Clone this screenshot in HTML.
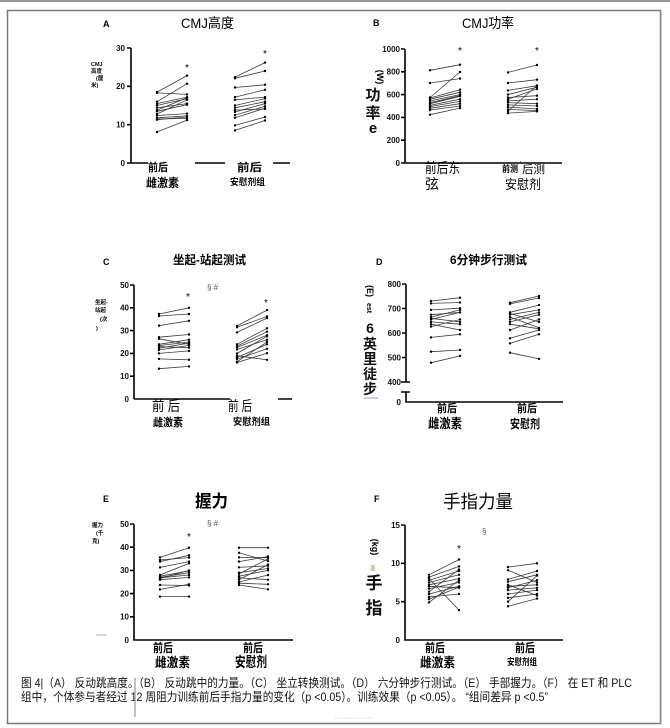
<!DOCTYPE html>
<html><head><meta charset="utf-8"><style>
html,body{margin:0;padding:0;background:#fff;}
svg{display:block;font-family:"Liberation Sans","Noto Sans CJK SC",sans-serif;}
.s{stroke:#3a3a3a;stroke-width:.8;marker-start:url(#m);marker-end:url(#m);fill:none}
.ax{stroke:#000;stroke-width:1.6;fill:none}
.tk{font-size:8px;font-weight:bold;text-anchor:end;fill:#111}
.cj{font-weight:bold;fill:#111;text-anchor:middle}
</style></head><body>
<svg width="670" height="728" viewBox="0 0 670 728" xmlns="http://www.w3.org/2000/svg">
<defs><marker id="m" viewBox="-2 -2 4 4" markerWidth="3" markerHeight="3" markerUnits="userSpaceOnUse" refX="0" refY="0"><circle r="1.6" fill="#000"/></marker></defs>
<rect x="0" y="0" width="670" height="728" fill="#fff"/>
<line x1="0" y1="1" x2="670" y2="1" stroke="#9a9a9a" stroke-width="2"/>
<rect x="7.5" y="10.5" width="653" height="713" fill="none" stroke="#7a7a7a" stroke-width="1.5"/>
<line x1="661" y1="11" x2="661" y2="724" stroke="#999" stroke-width="1"/>

<!-- Panel A -->
<text x="103" y="27" font-size="9" font-weight="bold">A</text>
<text x="181" y="28" font-size="14" textLength="53" lengthAdjust="spacingAndGlyphs">CMJ高度</text>
<path class="ax" d="M131 48V163M131 163H148M195 163H225M273 163H290M127 48H131M127 86.3H131M127 124.7H131M127 163H131"/>
<text class="tk" x="125" y="51">30</text><text class="tk" x="125" y="89">20</text><text class="tk" x="125" y="127.5">10</text><text class="tk" x="125" y="166">0</text>
<text font-size="5.5" font-weight="bold" x="91" y="66">CMJ</text>
<text font-size="5.5" font-weight="bold" x="91" y="73">高度</text>
<text font-size="5.5" font-weight="bold" x="96" y="80">(厘</text>
<text font-size="5.5" font-weight="bold" x="91" y="87">米)</text>
<g class="s">
<line x1="157" y1="92.1" x2="187" y2="75.6"/><line x1="157" y1="92.9" x2="187" y2="94.4"/>
<line x1="157" y1="101.7" x2="187" y2="83.7"/><line x1="157" y1="103.6" x2="187" y2="97.1"/>
<line x1="157" y1="105.5" x2="187" y2="98.6"/><line x1="157" y1="107.8" x2="187" y2="103.6"/>
<line x1="157" y1="110.1" x2="187" y2="97.8"/><line x1="157" y1="111.3" x2="187" y2="104.7"/>
<line x1="157" y1="114" x2="187" y2="99.8"/><line x1="157" y1="115.5" x2="187" y2="113.6"/>
<line x1="157" y1="117.8" x2="187" y2="115.9"/><line x1="157" y1="118.9" x2="187" y2="118.5"/>
<line x1="157" y1="119.7" x2="187" y2="117"/><line x1="157" y1="132" x2="187" y2="120.1"/>
<line x1="235" y1="77.1" x2="265" y2="62.6"/><line x1="235" y1="78.3" x2="265" y2="71"/>
<line x1="235" y1="87.5" x2="265" y2="84.8"/><line x1="235" y1="97.1" x2="265" y2="89.8"/>
<line x1="235" y1="99.8" x2="265" y2="97.1"/><line x1="235" y1="105.5" x2="265" y2="98.6"/>
<line x1="235" y1="107.8" x2="265" y2="101.7"/><line x1="235" y1="112" x2="265" y2="103.6"/>
<line x1="235" y1="115.1" x2="265" y2="106.3"/><line x1="235" y1="117.8" x2="265" y2="108.2"/>
<line x1="235" y1="110.1" x2="265" y2="109"/><line x1="235" y1="125.4" x2="265" y2="117"/>
<line x1="235" y1="130.4" x2="265" y2="120.5"/>
</g>
<text x="187" y="71" font-size="10" text-anchor="middle">*</text>
<text x="265" y="57" font-size="10" text-anchor="middle">*</text>
<text x="148" y="171" font-size="11" font-weight="bold" textLength="20" lengthAdjust="spacingAndGlyphs">前后</text>
<text x="146" y="187" font-size="12" font-weight="bold" textLength="33" lengthAdjust="spacingAndGlyphs">雌激素</text>
<text x="237" y="171" font-size="11" font-weight="bold" textLength="25" lengthAdjust="spacingAndGlyphs">前后</text>
<text x="230" y="185" font-size="9" font-weight="bold" textLength="35" lengthAdjust="spacingAndGlyphs">安慰剂组</text>

<!-- Panel B -->
<text x="373" y="26" font-size="9" font-weight="bold">B</text>
<text x="462" y="28" font-size="14" textLength="52" lengthAdjust="spacingAndGlyphs">CMJ功率</text>
<path class="ax" d="M405 49V163H562M401 49H405M401 71.8H405M401 94.6H405M401 117.4H405M401 140.2H405M401 163H405"/>
<text class="tk" x="400" y="52">1000</text><text class="tk" x="400" y="74.6">800</text><text class="tk" x="400" y="97.4">600</text><text class="tk" x="400" y="120.2">400</text><text class="tk" x="400" y="143">200</text><text class="tk" x="400" y="166">0</text>
<text transform="translate(377,77) rotate(90)" font-size="9" font-weight="bold" text-anchor="middle">(W)</text>
<text x="373" y="100" font-size="15" class="cj">功</text>
<text x="373" y="118" font-size="15" class="cj">率</text>
<text x="373" y="133" font-size="15" class="cj">e</text>
<g class="s">
<line x1="430" y1="70.3" x2="460" y2="64.7"/><line x1="430" y1="83" x2="460" y2="78.6"/>
<line x1="430" y1="97.5" x2="460" y2="72"/><line x1="430" y1="98" x2="460" y2="89.7"/>
<line x1="430" y1="99.2" x2="460" y2="92.3"/><line x1="430" y1="100.9" x2="460" y2="94.6"/>
<line x1="430" y1="102.6" x2="460" y2="95.7"/><line x1="430" y1="103.7" x2="460" y2="96.3"/>
<line x1="430" y1="105.4" x2="460" y2="99.2"/><line x1="430" y1="106.6" x2="460" y2="101.4"/>
<line x1="430" y1="108.3" x2="460" y2="103.7"/><line x1="430" y1="110" x2="460" y2="106"/>
<line x1="430" y1="114.7" x2="460" y2="108.1"/>
<line x1="508" y1="72.4" x2="537" y2="65"/><line x1="508" y1="83" x2="537" y2="79.7"/>
<line x1="508" y1="90.4" x2="537" y2="85.7"/><line x1="508" y1="94.6" x2="537" y2="87.2"/>
<line x1="508" y1="97.5" x2="537" y2="95.7"/><line x1="508" y1="99.2" x2="537" y2="88.9"/>
<line x1="508" y1="100.9" x2="537" y2="99.2"/><line x1="508" y1="102.6" x2="537" y2="103.7"/>
<line x1="508" y1="104.9" x2="537" y2="106"/><line x1="508" y1="107.1" x2="537" y2="108.9"/>
<line x1="508" y1="109.4" x2="537" y2="110.6"/><line x1="508" y1="113.1" x2="537" y2="111.4"/>
<line x1="508" y1="111.1" x2="537" y2="85.5"/>
</g>
<text x="460" y="54" font-size="10" text-anchor="middle">*</text>
<text x="537" y="54" font-size="10" text-anchor="middle">*</text>
<text x="425" y="173" font-size="14" textLength="35" lengthAdjust="spacingAndGlyphs">前后东</text>
<text x="425" y="189" font-size="14">弦</text>
<text x="502" y="172" font-size="9" font-weight="bold" textLength="16" lengthAdjust="spacingAndGlyphs">前测</text>
<text x="519" y="168" font-size="9" font-weight="bold">ˈ</text>
<text x="522" y="173" font-size="11" textLength="23" lengthAdjust="spacingAndGlyphs">后测</text>
<text x="505" y="189" font-size="13" textLength="36" lengthAdjust="spacingAndGlyphs">安慰剂</text>

<!-- Panel C -->
<text x="103" y="265" font-size="9" font-weight="bold">C</text>
<text x="173" y="264" font-size="12" font-weight="bold" textLength="73" lengthAdjust="spacingAndGlyphs">坐起-站起测试</text>
<path class="ax" d="M134 285V399M134 399H230M278 399H292M130 285H134M130 307.8H134M130 330.6H134M130 353.4H134M130 376.2H134"/>
<text class="tk" x="129" y="288">50</text><text class="tk" x="129" y="310.6">40</text><text class="tk" x="129" y="333.4">30</text><text class="tk" x="129" y="356.2">20</text><text class="tk" x="129" y="379">10</text><text class="tk" x="129" y="402">0</text>
<text font-size="5.5" font-weight="bold" x="95" y="304">坐起-</text>
<text font-size="5.5" font-weight="bold" x="95" y="312">站起</text>
<text font-size="5.5" font-weight="bold" x="100" y="321">(次</text>
<text font-size="5.5" font-weight="bold" x="96" y="330">)</text>
<text x="207" y="290" font-size="8" fill="#555">§ #</text>
<g class="s">
<line x1="159" y1="314" x2="189" y2="307.8"/><line x1="159" y1="316" x2="189" y2="314"/>
<line x1="159" y1="325.6" x2="189" y2="320.8"/><line x1="159" y1="337.2" x2="189" y2="334.5"/>
<line x1="159" y1="338.8" x2="189" y2="344.3"/><line x1="159" y1="344.3" x2="189" y2="339.7"/>
<line x1="159" y1="345.6" x2="189" y2="342"/><line x1="159" y1="346.6" x2="189" y2="347.7"/>
<line x1="159" y1="348.2" x2="189" y2="343.1"/><line x1="159" y1="350" x2="189" y2="345.4"/>
<line x1="159" y1="353.4" x2="189" y2="350.9"/><line x1="159" y1="358.9" x2="189" y2="359.8"/>
<line x1="159" y1="368.7" x2="189" y2="366.4"/>
<line x1="237" y1="326" x2="267" y2="310.1"/><line x1="237" y1="327.2" x2="267" y2="316.5"/>
<line x1="237" y1="332.4" x2="267" y2="318.1"/><line x1="237" y1="344.3" x2="267" y2="328.3"/>
<line x1="237" y1="346.1" x2="267" y2="331.7"/><line x1="237" y1="347.5" x2="267" y2="335.2"/>
<line x1="237" y1="349.5" x2="267" y2="339.7"/><line x1="237" y1="353.4" x2="267" y2="336.3"/>
<line x1="237" y1="357.5" x2="267" y2="344.3"/><line x1="237" y1="359.1" x2="267" y2="348.8"/>
<line x1="237" y1="362.5" x2="267" y2="353.2"/><line x1="237" y1="355.7" x2="267" y2="359.8"/>
<line x1="237" y1="361.8" x2="267" y2="342"/>
</g>
<text x="188" y="300" font-size="10" text-anchor="middle">*</text>
<text x="266" y="306" font-size="10" text-anchor="middle">*</text>
<text x="152" y="411" font-size="14" textLength="28" lengthAdjust="spacingAndGlyphs">前 后</text>
<text x="153" y="426" font-size="11" font-weight="bold" textLength="30" lengthAdjust="spacingAndGlyphs">雌激素</text>
<text x="228" y="411" font-size="14" textLength="24" lengthAdjust="spacingAndGlyphs">前 后</text>
<text x="233" y="425" font-size="9.5" font-weight="bold" textLength="37" lengthAdjust="spacingAndGlyphs">安慰剂组</text>

<!-- Panel D -->
<text x="376" y="265" font-size="9" font-weight="bold">D</text>
<text x="450" y="264" font-size="12" font-weight="bold" textLength="77" lengthAdjust="spacingAndGlyphs">6分钟步行测试</text>
<path class="ax" d="M406 284V382M401 382H410M401 392H410M406 392V402H563M402 284H406M402 308.5H406M402 333H406M402 357.5H406"/>
<text class="tk" x="401" y="287">800</text><text class="tk" x="401" y="311.5">700</text><text class="tk" x="401" y="336">600</text><text class="tk" x="401" y="360.5">500</text><text class="tk" x="401" y="385">400</text><text class="tk" x="401" y="405">0</text>
<text transform="translate(367,291) rotate(90)" font-size="9" font-weight="bold" text-anchor="middle">(E)</text>
<text transform="translate(367,308) rotate(90)" font-size="7" font-weight="bold" text-anchor="middle">est</text>
<text x="370" y="333" font-size="14" class="cj">6</text>
<text x="370" y="349" font-size="14" class="cj">英</text>
<text x="370" y="364" font-size="14" class="cj">里</text>
<text x="370" y="379" font-size="14" class="cj">徒</text>
<text x="370" y="394" font-size="14" class="cj">步</text>
<line x1="364" y1="398" x2="378" y2="398" stroke="#8aa0c8" stroke-width="1"/>
<g class="s">
<line x1="431" y1="301.1" x2="460" y2="297.7"/><line x1="431" y1="303.4" x2="460" y2="302.5"/>
<line x1="431" y1="309.9" x2="460" y2="308.2"/><line x1="431" y1="314.7" x2="460" y2="312.4"/>
<line x1="431" y1="317.1" x2="460" y2="309.9"/><line x1="431" y1="318.3" x2="460" y2="321.9"/>
<line x1="431" y1="319.5" x2="460" y2="312.4"/><line x1="431" y1="321.9" x2="460" y2="324.2"/>
<line x1="431" y1="324.2" x2="460" y2="330"/><line x1="431" y1="326.6" x2="460" y2="319.5"/>
<line x1="431" y1="337.4" x2="460" y2="334.3"/><line x1="431" y1="351.7" x2="460" y2="350"/>
<line x1="431" y1="362.7" x2="460" y2="356"/>
<line x1="510" y1="302.7" x2="539" y2="296"/><line x1="510" y1="303.9" x2="539" y2="298"/>
<line x1="510" y1="312.3" x2="539" y2="305.1"/><line x1="510" y1="314.7" x2="539" y2="309.9"/>
<line x1="510" y1="317.1" x2="539" y2="327.8"/><line x1="510" y1="319.5" x2="539" y2="312.4"/>
<line x1="510" y1="321.9" x2="539" y2="314.7"/><line x1="510" y1="324.2" x2="539" y2="328.8"/>
<line x1="510" y1="330" x2="539" y2="319.5"/><line x1="510" y1="338.3" x2="539" y2="330"/>
<line x1="510" y1="343.4" x2="539" y2="334.3"/><line x1="510" y1="352.7" x2="539" y2="358.9"/>
<line x1="510" y1="313.5" x2="539" y2="321.9"/>
</g>
<text x="437" y="412" font-size="11" font-weight="bold" textLength="20" lengthAdjust="spacingAndGlyphs">前后</text>
<text x="428" y="428" font-size="13" font-weight="bold" textLength="34" lengthAdjust="spacingAndGlyphs">雌激素</text>
<text x="517" y="412" font-size="11" font-weight="bold" textLength="20" lengthAdjust="spacingAndGlyphs">前后</text>
<text x="510" y="428" font-size="12" font-weight="bold" textLength="30" lengthAdjust="spacingAndGlyphs">安慰剂</text>

<!-- Panel E -->
<text x="103" y="502" font-size="9" font-weight="bold">E</text>
<text x="195" y="507" font-size="17" font-weight="bold" textLength="33" lengthAdjust="spacingAndGlyphs">握力</text>
<path class="ax" d="M134 524V640H293M130 524H134M130 547.2H134M130 570.4H134M130 593.6H134M130 616.8H134"/>
<text class="tk" x="129" y="527">50</text><text class="tk" x="129" y="550">40</text><text class="tk" x="129" y="573">30</text><text class="tk" x="129" y="596.5">20</text><text class="tk" x="129" y="619.6">10</text><text class="tk" x="129" y="643">0</text>
<text font-size="5.5" font-weight="bold" x="92" y="527">握力</text>
<text font-size="5.5" font-weight="bold" x="96" y="535">(千</text>
<text font-size="5.5" font-weight="bold" x="92" y="543">克)</text>
<line x1="96" y1="635" x2="106" y2="635" stroke="#9bb5d0" stroke-width="1"/>
<text x="207" y="526" font-size="8" fill="#555">§ #</text>
<g class="s">
<line x1="160" y1="557.4" x2="189" y2="547.7"/><line x1="160" y1="561.6" x2="189" y2="555.3"/>
<line x1="160" y1="560" x2="189" y2="557.6"/><line x1="160" y1="567.4" x2="189" y2="561.6"/>
<line x1="160" y1="575" x2="189" y2="563.4"/><line x1="160" y1="576.2" x2="189" y2="570.9"/>
<line x1="160" y1="577.4" x2="189" y2="572.7"/><line x1="160" y1="578.5" x2="189" y2="570.4"/>
<line x1="160" y1="579.7" x2="189" y2="577.4"/><line x1="160" y1="585" x2="189" y2="585.5"/>
<line x1="160" y1="589.4" x2="189" y2="584.3"/><line x1="160" y1="596.6" x2="189" y2="596.6"/>
<line x1="160" y1="577.8" x2="189" y2="575"/>
<line x1="239" y1="547.7" x2="268" y2="547.7"/><line x1="239" y1="552.8" x2="268" y2="561.1"/>
<line x1="239" y1="557.4" x2="268" y2="557.6"/><line x1="239" y1="561.6" x2="268" y2="556.5"/>
<line x1="239" y1="567.4" x2="268" y2="565.8"/><line x1="239" y1="573.9" x2="268" y2="558.8"/>
<line x1="239" y1="576.2" x2="268" y2="570.4"/><line x1="239" y1="577.8" x2="268" y2="579.7"/>
<line x1="239" y1="579.7" x2="268" y2="564.6"/><line x1="239" y1="582" x2="268" y2="575"/>
<line x1="239" y1="585" x2="268" y2="589.4"/><line x1="239" y1="583.2" x2="268" y2="584.3"/>
<line x1="239" y1="572.7" x2="268" y2="568.5"/>
</g>
<text x="189" y="540" font-size="10" text-anchor="middle">*</text>
<text x="153" y="652" font-size="12" font-weight="bold" textLength="20" lengthAdjust="spacingAndGlyphs">前后</text>
<text x="155" y="667" font-size="13" font-weight="bold" textLength="35" lengthAdjust="spacingAndGlyphs">雌激素</text>
<text x="243" y="652" font-size="12" font-weight="bold" textLength="20" lengthAdjust="spacingAndGlyphs">前后</text>
<text x="235" y="667" font-size="14" font-weight="bold" textLength="32" lengthAdjust="spacingAndGlyphs">安慰剂</text>

<!-- Panel F -->
<text x="374" y="502" font-size="9" font-weight="bold">F</text>
<text x="443" y="508" font-size="18" textLength="70" lengthAdjust="spacingAndGlyphs">手指力量</text>
<path class="ax" d="M405 525V640H563M401 525H405M401 563.3H405M401 601.7H405"/>
<text class="tk" x="400" y="528" font-weight="normal" fill="#333">15</text><text class="tk" x="400" y="566" font-weight="normal" fill="#333">10</text><text class="tk" x="400" y="604.5" font-weight="normal" fill="#333">5</text><text class="tk" x="400" y="643" font-weight="normal" fill="#333">0</text>
<text transform="translate(372,547) rotate(90)" font-size="9" font-weight="bold" text-anchor="middle">(kg)</text>
<rect x="371" y="565" width="4" height="6" fill="#d8cfa0"/>
<text x="374" y="589" font-size="17" class="cj">手</text>
<text x="374" y="614" font-size="17" class="cj">指</text>
<text x="482" y="534" font-size="8" fill="#555">§</text>
<g class="s">
<line x1="429" y1="574.8" x2="459" y2="559.5"/><line x1="429" y1="577.1" x2="459" y2="566.4"/>
<line x1="429" y1="580.2" x2="459" y2="571"/><line x1="429" y1="582.5" x2="459" y2="574.8"/>
<line x1="429" y1="584.8" x2="459" y2="578.6"/><line x1="429" y1="586.3" x2="459" y2="587.8"/>
<line x1="429" y1="588.6" x2="459" y2="582.5"/><line x1="429" y1="591.7" x2="459" y2="569.4"/>
<line x1="429" y1="594" x2="459" y2="586.3"/><line x1="429" y1="597" x2="459" y2="594"/>
<line x1="429" y1="599.3" x2="459" y2="587.1"/><line x1="429" y1="602.4" x2="459" y2="580.2"/>
<line x1="429" y1="578.6" x2="459" y2="610.1"/>
<line x1="508" y1="567.1" x2="537" y2="563.3"/><line x1="508" y1="570.2" x2="537" y2="582.5"/>
<line x1="508" y1="579.4" x2="537" y2="571"/><line x1="508" y1="581.7" x2="537" y2="574.8"/>
<line x1="508" y1="586.3" x2="537" y2="584.8"/><line x1="508" y1="590.1" x2="537" y2="587.8"/>
<line x1="508" y1="594" x2="537" y2="590.1"/><line x1="508" y1="597.8" x2="537" y2="594"/>
<line x1="508" y1="601.7" x2="537" y2="575.6"/><line x1="508" y1="606.3" x2="537" y2="598.6"/>
<line x1="508" y1="584.8" x2="537" y2="595.5"/><line x1="508" y1="587.8" x2="537" y2="580.2"/>
</g>
<text x="459" y="552" font-size="10" text-anchor="middle">*</text>
<text x="425" y="652" font-size="12" font-weight="bold" textLength="20" lengthAdjust="spacingAndGlyphs">前后</text>
<text x="420" y="667" font-size="13" font-weight="bold" textLength="35" lengthAdjust="spacingAndGlyphs">雌激素</text>
<text x="515" y="652" font-size="12" font-weight="bold" textLength="20" lengthAdjust="spacingAndGlyphs">前后</text>
<text x="507" y="665" font-size="9" font-weight="bold" textLength="30" lengthAdjust="spacingAndGlyphs">安慰剂组</text>

<!-- Caption -->
<text x="21" y="687" font-size="12" fill="#111" textLength="611" lengthAdjust="spacingAndGlyphs">图 4|（A） 反动跳高度。（B） 反动跳中的力量。（C） 坐立转换测试。（D） 六分钟步行测试。（E） 手部握力。（F） 在 ET 和 PLC</text>
<text x="21" y="701" font-size="12" fill="#111" textLength="527" lengthAdjust="spacingAndGlyphs">组中，个体参与者经过 12 周阻力训练前后手指力量的变化（p &lt;0.05）。训练效果（p &lt;0.05）。 “组间差异 p &lt;0.5”</text>
<line x1="135" y1="678" x2="135" y2="717" stroke="#aaa" stroke-width="1.5"/>
<line x1="335" y1="718" x2="372" y2="718" stroke="#ddd" stroke-width="1" stroke-dasharray="2 1"/>
</svg>
</body></html>
